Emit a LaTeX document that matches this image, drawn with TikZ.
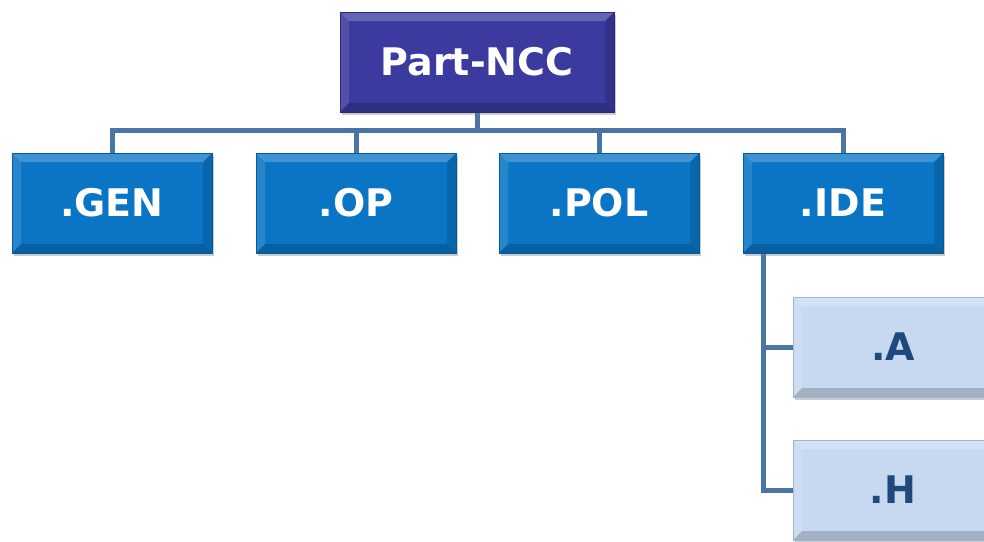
\documentclass[tikz,border=0pt]{standalone}
\usepackage{fontspec}
\setmainfont{DejaVu Sans}
\usetikzlibrary{shadows,backgrounds}
\definecolor{topfill}{HTML}{3A3A9F}
\definecolor{topdraw}{HTML}{2A2A78}
\definecolor{midfill}{HTML}{0A75C5}
\definecolor{middraw}{HTML}{075A98}
\definecolor{lowfill}{HTML}{C6D9F0}
\definecolor{lowdraw}{HTML}{9FB6D3}
\definecolor{lowtext}{HTML}{1F497D}
\definecolor{connc}{HTML}{4A73A8}
\tikzset{
  bevel/.style={path picture={
    \fill[white,opacity=0.22] (path picture bounding box.north west) -- (path picture bounding box.north east) -- ([xshift=-9pt,yshift=-9pt]path picture bounding box.north east) -- ([xshift=9pt,yshift=-9pt]path picture bounding box.north west) -- cycle;
    \fill[white,opacity=0.12] (path picture bounding box.north west) -- (path picture bounding box.south west) -- ([xshift=9pt,yshift=9pt]path picture bounding box.south west) -- ([xshift=9pt,yshift=-9pt]path picture bounding box.north west) -- cycle;
    \fill[black,opacity=0.18] (path picture bounding box.south west) -- (path picture bounding box.south east) -- ([xshift=-9pt,yshift=9pt]path picture bounding box.south east) -- ([xshift=9pt,yshift=9pt]path picture bounding box.south west) -- cycle;
    \fill[black,opacity=0.12] (path picture bounding box.north east) -- (path picture bounding box.south east) -- ([xshift=-9pt,yshift=9pt]path picture bounding box.south east) -- ([xshift=-9pt,yshift=-9pt]path picture bounding box.north east) -- cycle;
  }},
  box/.style={rectangle, minimum height=100pt, inner sep=0pt, bevel,
    font=\fontsize{38}{42}\selectfont\bfseries,
    drop shadow={shadow xshift=2pt, shadow yshift=-3pt, opacity=0.4}},
  topbox/.style={box, minimum width=274pt, fill=topfill, draw=topdraw, line width=0.8pt, text=white},
  midbox/.style={box, minimum width=200pt, fill=midfill, draw=middraw, line width=0.8pt, text=white},
  lowbox/.style={box, minimum width=200pt, fill=lowfill, draw=lowdraw, line width=0.8pt, text=lowtext},
  conn/.style={draw=connc, line width=5pt}
}
\begin{document}
\begin{tikzpicture}[x=1pt,y=-1pt]
\useasboundingbox (0,0) rectangle (984,541);
\node[topbox] (top) at (477,62) {Part-NCC};
\node[midbox] (gen) at (112,203) {.GEN};
\node[midbox] (op) at (356,203) {.OP};
\node[midbox] (pol) at (599,203) {.POL};
\node[midbox] (ide) at (843,203) {.IDE};
\node[lowbox] (a) at (893,347) {.A};
\node[lowbox] (h) at (893,490) {.H};
\coordinate (bus) at (0,130);
\coordinate (vx) at (763,0);
\begin{scope}[on background layer]
\draw[conn] (top.south) -- (top.south |- bus);
\draw[conn] ([xshift=-2.5pt]gen.north |- bus) -- ([xshift=2.5pt]ide.north |- bus);
\draw[conn] (gen.north |- bus) -- (gen.north);
\draw[conn] (op.north |- bus) -- (op.north);
\draw[conn] (pol.north |- bus) -- (pol.north);
\draw[conn] (ide.north |- bus) -- (ide.north);
\draw[conn] (ide.south -| vx) |- (a.west);
\draw[conn] (ide.south -| vx) |- (h.west);
\end{scope}
\end{tikzpicture}
\end{document}
